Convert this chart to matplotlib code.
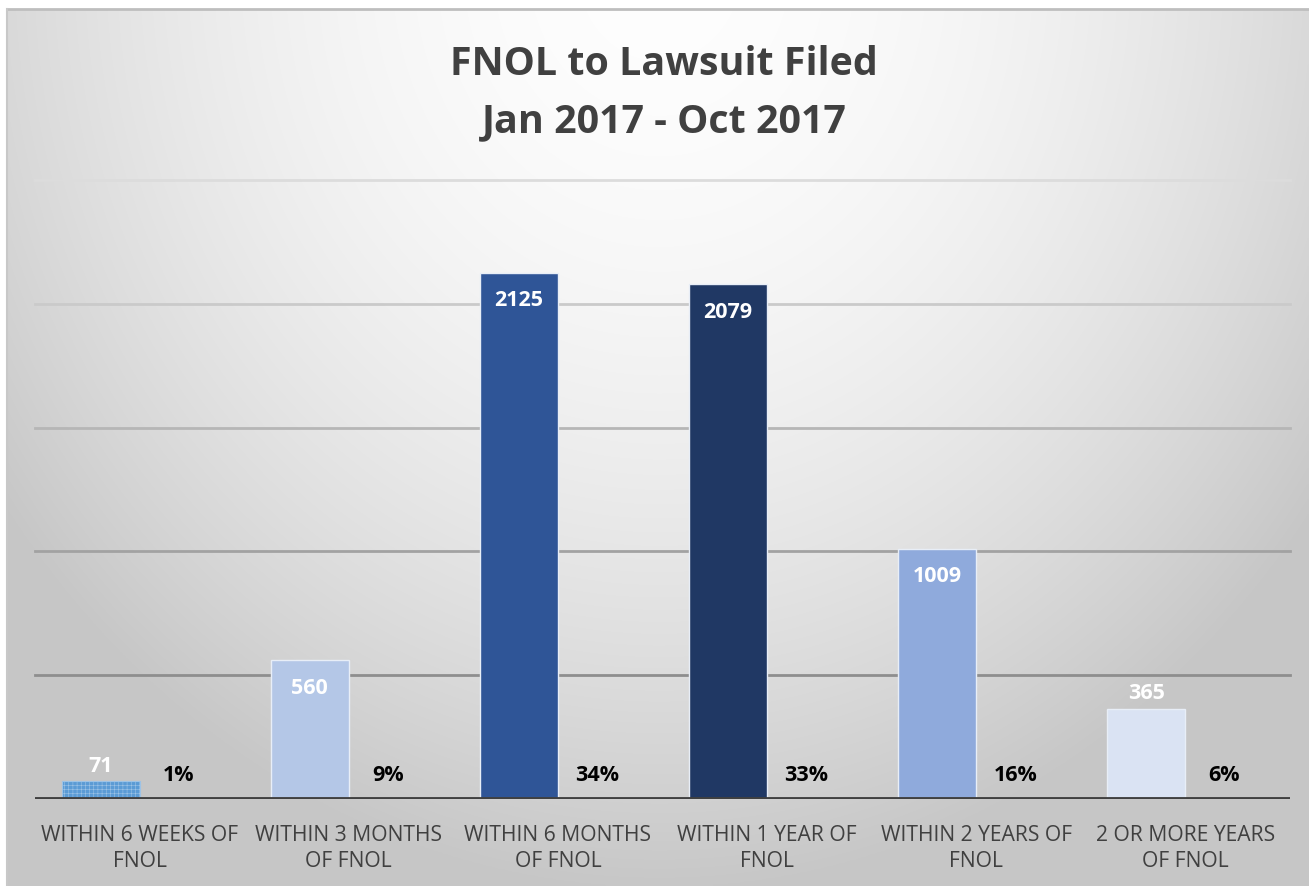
import numpy as np
import matplotlib
matplotlib.use("Agg")
import matplotlib.pyplot as plt

categories = ["WITHIN 6 WEEKS OF\nFNOL", "WITHIN 3 MONTHS\nOF FNOL", "WITHIN 6 MONTHS\nOF FNOL",
              "WITHIN 1 YEAR OF\nFNOL", "WITHIN 2 YEARS OF\nFNOL", "2 OR MORE YEARS\nOF FNOL"]
counts = [71, 560, 2125, 2079, 1009, 365]
percents = [0.01, 0.09, 0.34, 0.33, 0.16, 0.06]
title = "FNOL to Lawsuit Filed\nJan 2017 - Oct 2017"

bar_colors = ["#5B9BD5", "#B4C7E7", "#2F5597", "#203864", "#8FAADC", "#DAE3F3"]

W, H = 1309, 886
fig = plt.figure(figsize=(W / 100, H / 100), dpi=100)
fig.patch.set_facecolor("white")
matplotlib.rcParams["hatch.linewidth"] = 0.4

# background radial gradient
bx0, by_top = 7, 9
bg = fig.add_axes([bx0 / W, 0, 1 - bx0 / W, 1 - by_top / H])
ny, nx = 300, 450
yy, xx = np.mgrid[0:ny, 0:nx]
cx, cy = nx * 0.5, -ny * 0.05
d = np.sqrt(((xx - cx) / (nx * 0.62)) ** 2 + ((yy - cy) / (ny * 1.05)) ** 2)
d = np.clip(d, 0, 1)
v = 0.995 - (0.995 - 0.78) * d ** 1.9
img = np.dstack([v, v, v])
bg.imshow(img, aspect="auto", extent=[0, 1, 0, 1], origin="upper", interpolation="bilinear")
bg.plot([0, 1], [1, 1], color="#BEBEBE", lw=2, transform=bg.transAxes, clip_on=False)
bg.plot([0, 0], [0, 1], color="#C8C8C8", lw=1.5, transform=bg.transAxes, clip_on=False)
bg.set_xlim(0, 1)
bg.set_ylim(0, 1)
bg.axis("off")

ax = fig.add_axes([35 / W, 1 - 799 / H, 1255 / W, (799 - 180) / H])
ax.patch.set_alpha(0)
ymax = 2500
ax.set_ylim(0, ymax)
x = np.arange(len(categories))
ax.set_xlim(-0.5, len(categories) - 0.5)
w = 0.373

# gridlines
grid_vals = [500, 1000, 1500, 2000, 2500]
grid_cols = ["#8E8E8E", "#A2A2A2", "#B6B6B6", "#CACACA", "#DCDCDC"]
for gv, gc in zip(grid_vals, grid_cols):
    ax.axhline(gv, color=gc, lw=2, zorder=1, clip_on=False)

bars = ax.bar(x - w / 2, counts, width=w, color=bar_colors, edgecolor="#E8EEF7", linewidth=1, zorder=3)
bars[0].set_hatch("++++")
bars[0].set_edgecolor("#9DC3E6")
bars[0].set_linewidth(0.8)

pbars = ax.bar(x + w / 2, percents, width=w, color="none", zorder=3)

lab_font = dict(family="Open Sans", fontsize=15.5, fontweight="bold")
for b, c in zip(bars, counts):
    cxp = b.get_x() + b.get_width() / 2
    if c < 400:
        ax.annotate(f"{c}", (cxp, c), xytext=(0, 3), textcoords="offset points",
                    ha="center", va="bottom", color="white", **lab_font, zorder=5)
    else:
        ax.annotate(f"{c}", (cxp, c), xytext=(0, -20), textcoords="offset points",
                    ha="center", va="center", color="white", **lab_font, zorder=5)
for b, p in zip(pbars, percents):
    cxp = b.get_x() + b.get_width() / 2
    ax.annotate(f"{p:.0%}", (cxp, 0), xytext=(0, 17), textcoords="offset points",
                ha="center", va="center", color="black", **lab_font, zorder=5)

ax.axhline(0, color="#404040", lw=3.5, zorder=4)
for s in ax.spines.values():
    s.set_visible(False)
ax.set_yticks([])
ax.set_xticks(x)
ax.set_xticklabels(categories, fontsize=15.2, color="#404040", family="Open Sans", linespacing=1.35)
ax.tick_params(axis="x", length=0, pad=18.5)

fig.text(664 / W, 1 - 93 / H, title, ha="center", va="center", fontsize=28.4, fontweight="bold",
         color="#404040", family="Open Sans", linespacing=1.62)

fig.savefig("out.png", dpi=100)
